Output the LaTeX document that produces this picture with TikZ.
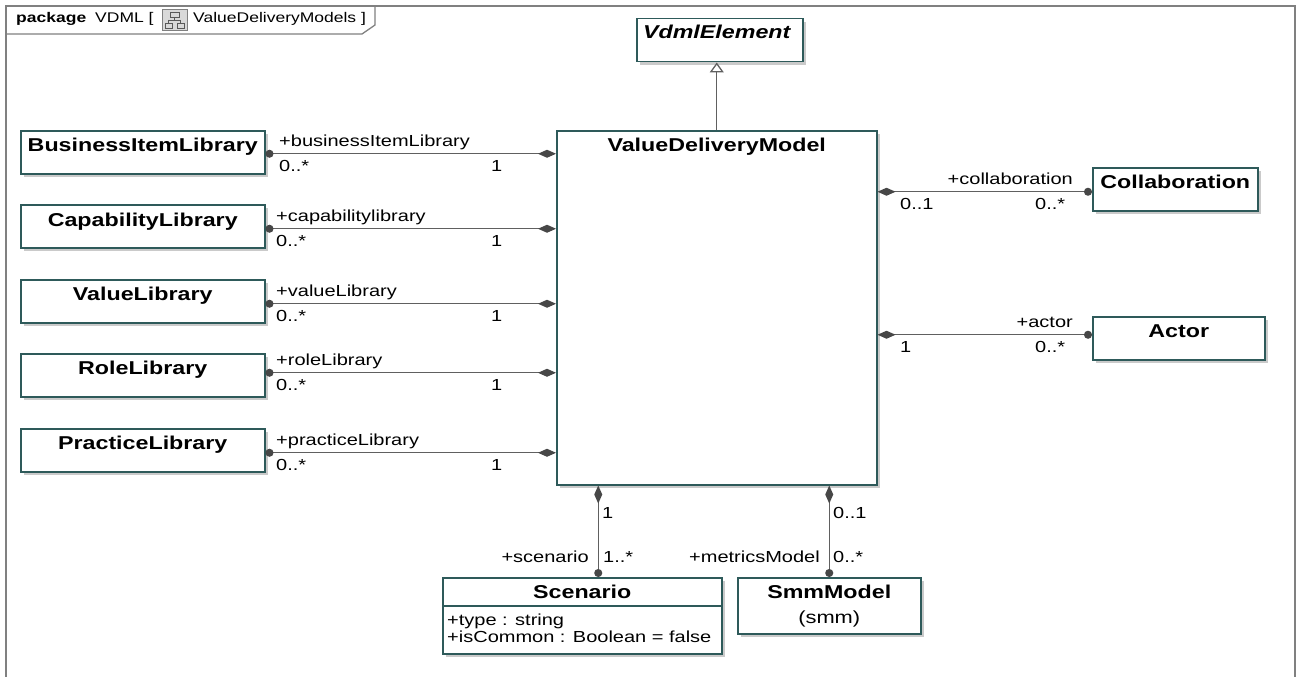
\documentclass[tikz,border=0pt]{standalone}
\usepackage{fontspec}
\setmainfont[FakeStretch=1.25]{Liberation Sans}
\usetikzlibrary{arrows.meta,shadows}
\definecolor{boxc}{HTML}{2E5A5A}
\definecolor{linec}{HTML}{606060}
\definecolor{tipc}{HTML}{474747}
\definecolor{framec}{HTML}{808080}
\definecolor{shadc}{HTML}{CACACA}
\begin{document}
\begin{tikzpicture}[x=1pt,y=-1pt,
  cls/.style={draw=boxc, line width=1.5pt, fill=white, inner sep=0pt, anchor=north west,
    drop shadow={shadow xshift=3pt, shadow yshift=-3pt, fill=shadc, opacity=1}},
  ttl/.style={font=\fontsize{18.6}{22}\selectfont\bfseries, inner sep=0pt, anchor=base},
  lbl/.style={font=\fontsize{16}{19}\selectfont, inner sep=0pt},
  hdr/.style={font=\fontsize{14}{17}\selectfont, inner sep=0pt, anchor=base west},
  assoc/.style={draw=linec, line width=1.3pt,
    {Diamond[length=18pt,width=8pt,fill=tipc,color=tipc]}-{Circle[length=8pt,fill=tipc,color=tipc]}},
  gen/.style={draw=linec, line width=1.3pt, -{Triangle[open,length=10pt,width=14pt,fill=white,color=linec]}}
]
\useasboundingbox (0,0) rectangle (1296,677);
% frame
\draw[framec, line width=1.8pt] (6,677) -- (6,6) -- (1295,6) -- (1295,677);
\draw[framec, line width=1.3pt] (6,34) -- (362,34) -- (375,25) -- (375,6);
\node[hdr] (pkg) at (16,23) {\textbf{package}\hspace{9pt}VDML [};
\draw[gray, fill=gray!30, line width=0.8pt] (162,9) rectangle (187,30);
\draw[gray!70!black, line width=0.8pt] (170,12) rectangle (179,17) (165,23) rectangle (172,28) (177,23) rectangle (184,28)
  (174.5,17) -- (174.5,20) (168.5,20) -- (180.5,20) (168.5,20) -- (168.5,23) (180.5,20) -- (180.5,23);
\node[hdr] (pkgn) at (193,23) {ValueDeliveryModels ]};

% classes
\node[cls, minimum width=244pt, minimum height=43pt] (bil) at (20,130) {};
\node[cls, minimum width=244pt, minimum height=43pt] (cap) at (20,204) {};
\node[cls, minimum width=244pt, minimum height=43pt] (val) at (20,279) {};
\node[cls, minimum width=244pt, minimum height=43pt] (rol) at (20,353) {};
\node[cls, minimum width=244pt, minimum height=43pt] (pra) at (20,428) {};
\node[cls, minimum width=166pt, minimum height=43pt] (vdme) at (636,18) {};
\node[cls, minimum width=320pt, minimum height=354pt] (vdm) at (556,130) {};
\node[cls, minimum width=165pt, minimum height=43pt] (col) at (1092,167) {};
\node[cls, minimum width=172pt, minimum height=43pt] (act) at (1092,316) {};
\node[cls, minimum width=279pt, minimum height=76pt] (sc) at (442,577) {};
\node[cls, minimum width=183pt, minimum height=56pt] (smm) at (737,577) {};
\draw[boxc, line width=1.3pt] ([yshift=-29pt]sc.north west) -- ([yshift=-29pt]sc.north east);

\node[ttl] (bilt) at ([yshift=-21pt]bil.north) {BusinessItemLibrary};
\node[ttl] (capt) at ([yshift=-22pt]cap.north) {CapabilityLibrary};
\node[ttl] (valt) at ([yshift=-21pt]val.north) {ValueLibrary};
\node[ttl] (rolt) at ([yshift=-21pt]rol.north) {RoleLibrary};
\node[ttl] (prat) at ([yshift=-21pt]pra.north) {PracticeLibrary};
\node[ttl, font=\fontsize{18.6}{22}\selectfont\bfseries\itshape] (vdmet) at ([xshift=-3pt,yshift=-21pt]vdme.north) {VdmlElement};
\node[ttl] (vdmt) at ([yshift=-21pt]vdm.north) {ValueDeliveryModel};
\node[ttl] (colt) at ([yshift=-21pt]col.north) {Collaboration};
\node[ttl] (actt) at ([yshift=-21pt]act.north) {Actor};
\node[ttl] (sct) at ([yshift=-21pt]sc.north) {Scenario};
\node[ttl] (smmt) at ([yshift=-21pt]smm.north) {SmmModel};
\node[lbl, font=\fontsize{17.5}{20}\selectfont, anchor=base] (smms) at ([yshift=-46pt]smm.north) {(smm)};
\node[lbl, anchor=base west] (sca1) at (447,625) {+type : string};
\node[lbl, anchor=base west] (sca2) at (447,642) {+isCommon : Boolean = false};

% connector end points
\coordinate (bilp) at ([yshift=-1.5pt]bil.east);
\coordinate (capp) at ([yshift=-2.5pt]cap.east);
\coordinate (valp) at ([yshift=-2.5pt]val.east);
\coordinate (rolp) at ([yshift=2.5pt]rol.east);
\coordinate (prap) at ([yshift=-2.5pt]pra.east);
\coordinate (colp) at ([yshift=-2.5pt]col.west);
\coordinate (actp) at ([yshift=3.5pt]act.west);
\coordinate (scp) at ([xshift=16pt]sc.north);

\draw[gen] (vdm.north) -- (vdm.north |- vdme.south);
\draw[assoc] (bilp -| vdm.west) -- (bilp);
\draw[assoc] (capp -| vdm.west) -- (capp);
\draw[assoc] (valp -| vdm.west) -- (valp);
\draw[assoc] (rolp -| vdm.west) -- (rolp);
\draw[assoc] (prap -| vdm.west) -- (prap);
\draw[assoc] (colp -| vdm.east) -- (colp);
\draw[assoc] (actp -| vdm.east) -- (actp);
\draw[assoc] (scp |- vdm.south) -- (scp);
\draw[assoc] (smm.north |- vdm.south) -- (smm.north);

% left labels
\node[lbl, anchor=base west] (l1r) at (279,146) {+businessItemLibrary};
\node[lbl, anchor=base west] (l1m) at (279,171) {0..*};
\node[lbl, anchor=base west] (l1o) at (491,171) {1};
\node[lbl, anchor=base west] (l2r) at (276,221) {+capabilitylibrary};
\node[lbl, anchor=base west] (l2m) at (276,246) {0..*};
\node[lbl, anchor=base west] (l2o) at (491,246) {1};
\node[lbl, anchor=base west] (l3r) at (276,296) {+valueLibrary};
\node[lbl, anchor=base west] (l3m) at (276,321) {0..*};
\node[lbl, anchor=base west] (l3o) at (491,321) {1};
\node[lbl, anchor=base west] (l4r) at (276,365) {+roleLibrary};
\node[lbl, anchor=base west] (l4m) at (276,390) {0..*};
\node[lbl, anchor=base west] (l4o) at (491,390) {1};
\node[lbl, anchor=base west] (l5r) at (276,445) {+practiceLibrary};
\node[lbl, anchor=base west] (l5m) at (276,470) {0..*};
\node[lbl, anchor=base west] (l5o) at (491,470) {1};
% right labels
\node[lbl, anchor=base east] (r1r) at (1073,184) {+collaboration};
\node[lbl, anchor=base west] (r1o) at (900,209) {0..1};
\node[lbl, anchor=base west] (r1m) at (1035,209) {0..*};
\node[lbl, anchor=base east] (r2r) at (1073,327) {+actor};
\node[lbl, anchor=base west] (r2o) at (900,352) {1};
\node[lbl, anchor=base west] (r2m) at (1035,352) {0..*};
% bottom labels
\node[lbl, anchor=base west] (b1o) at (602,518) {1};
\node[lbl, anchor=base east] (b1r) at (589,562) {+scenario};
\node[lbl, anchor=base west] (b1m) at (603,562) {1..*};
\node[lbl, anchor=base west] (b2o) at (833,518) {0..1};
\node[lbl, anchor=base east] (b2r) at (820,562) {+metricsModel};
\node[lbl, anchor=base west] (b2m) at (833,562) {0..*};
\end{tikzpicture}
\end{document}
